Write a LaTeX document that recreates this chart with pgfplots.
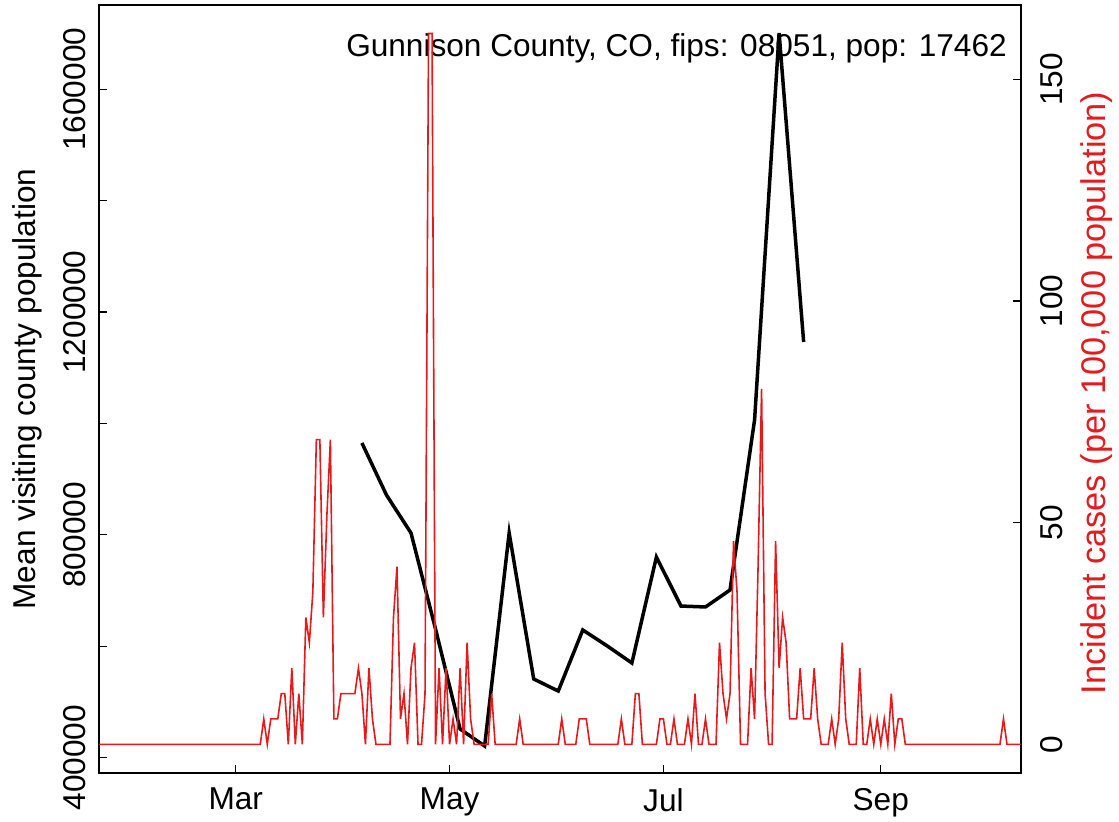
\documentclass[border=0pt]{standalone}
\usepackage{pgfplots}
\pgfplotsset{compat=1.18}
\usepackage{fontspec}
\setmainfont{Liberation Sans}
\definecolor{rred}{RGB}{228,26,28}
\newcommand{\lbl}{\fontsize{31.6bp}{36bp}\selectfont}
\newcommand{\rlbl}{\fontsize{34.3bp}{38bp}\selectfont}
\begin{document}
\begin{tikzpicture}
\pgfplotsset{
  common/.style={
    scale only axis, width=922bp, height=768bp,
    xmin=-39, xmax=224,
    tick align=inside, major tick length=8bp,
    every tick/.style={black, line width=1.2bp},
    axis line style={line width=1.2bp},
    tick label style={font=\lbl, inner sep=0pt},
    /pgf/number format/assume math mode=true,
    clip mode=individual,
  }
}
\begin{axis}[common,
  ymin=372530, ymax=1751350,
  xtick={0,61,122,184}, xticklabels={Mar,May,Jul,Sep},
  xtick pos=left, ytick pos=left,
  ytick={400000,600000,800000,1000000,1200000,1400000,1600000},
  yticklabels={400000,,800000,,1200000,,1600000},
  yticklabel style={rotate=90, anchor=south},
  yticklabel shift=13bp,
  xticklabel style={anchor=north},
  xticklabel shift=15bp,
  scaled y ticks=false,
]
\addplot[black, line width=3.5bp] coordinates {
(36,965000) (43,871600) (50,803400) (57,631000) (64,451500) (71,421000)
(78,803400) (85,541300) (92,519700) (99,629300) (106,600500) (113,570000)
(120,760300) (127,672300) (134,670600) (141,701100) (148,1006300)
(155,1701100) (162,1146300)
};
\node[font=\lbl, anchor=base east, inner sep=0pt] at (rel axis cs:0.9848,0.9323) {Gunnison County, CO, fips: 08051, pop: 17462};
\node[font=\lbl, rotate=90, anchor=base, inner sep=0pt] at (rel axis cs:-0.0694,0.5) {Mean visiting county population};
\end{axis}
\begin{axis}[common,
  ymin=-6.47, ymax=166.77,
  axis x line=none, axis y line*=right,
  ytick={0,50,100,150},
  yticklabel style={rotate=90, anchor=north},
  yticklabel shift=19bp,
]
\addplot[rred, line width=1.6bp] coordinates {
(-39,0) (7,0) (8,5.73) (9,0) (10,5.73) (11,5.73) (12,5.73) (13,11.45) (14,11.45)
(15,0) (16,17.18) (17,0) (18,11.45) (19,0) (20,28.63) (21,22.91) (22,34.36)
(23,68.72) (24,68.72) (25,28.63) (26,51.54) (27,68.72) (28,5.73) (29,5.73)
(30,11.45) (31,11.45) (32,11.45) (33,11.45) (34,11.45) (35,17.18) (36,11.45)
(37,0) (38,17.18) (39,5.73) (40,0) (41,0) (42,0) (43,0) (44,0) (45,28.63)
(46,40.09) (47,5.73) (48,11.45) (49,0) (50,17.18) (51,22.91) (52,0) (53,0)
(54,11.45) (55,160.35) (56,160.35) (57,0) (58,17.18) (59,0) (60,17.18) (61,0)
(62,5.73) (63,0) (64,17.18) (65,0) (66,22.91) (67,5.73) (68,0) (72,0)
(73,11.45) (74,0) (80,0) (81,5.73) (82,0) (92,0) (93,5.73) (94,0) (97,0)
(98,5.73) (99,5.73) (100,5.73) (101,0) (109,0) (110,5.73) (111,0) (113,0)
(114,11.45) (115,11.45) (116,0) (120,0) (121,5.73) (122,5.73) (123,0) (124,0)
(125,5.73) (126,0) (128,0) (129,5.73) (130,0) (131,11.45) (132,0) (133,0)
(134,5.73) (135,0) (137,0) (138,22.91) (139,11.45) (140,5.73) (141,11.45)
(142,45.81) (143,34.36) (144,0) (146,0) (147,17.18) (148,5.73) (149,40.09)
(150,80.17) (151,11.45) (152,0) (153,0) (154,45.81) (155,17.18) (156,28.63)
(157,22.91) (158,5.73) (159,5.73) (160,5.73) (161,17.18) (162,5.73) (163,5.73)
(164,5.73) (165,17.18) (166,5.73) (167,0) (169,0) (170,5.73) (171,0) (172,5.73)
(173,22.91) (174,5.73) (175,0) (177,0) (178,17.18) (179,0) (180,0) (181,5.73)
(182,0) (183,5.73) (184,0) (185,5.73) (186,0) (187,11.45) (188,0) (189,5.73)
(190,5.73) (191,0) (218,0) (219,5.73) (220,0) (224,0)
};
\node[font=\rlbl, rotate=90, anchor=base, inner sep=0pt, text=rred] at (rel axis cs:1.0911,0.495) {Incident cases (per 100,000 population)};
\end{axis}
\pgfresetboundingbox
\path (-99bp,-49bp) rectangle (1020bp,773bp);
\end{tikzpicture}
\end{document}
